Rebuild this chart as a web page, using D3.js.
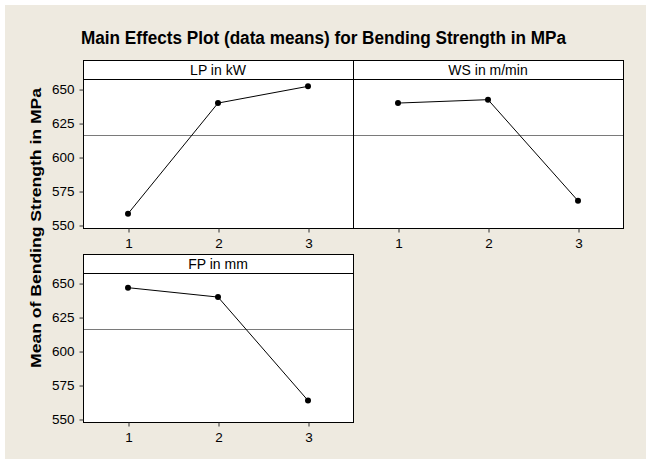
<!DOCTYPE html>
<html>
<head>
<meta charset="utf-8">
<script src="https://cdn.jsdelivr.net/npm/d3@7"></script>
<style>
  body { margin: 0; background: #fff; }
  svg { display: block; }
</style>
</head>
<body>
<svg id="chart" width="646" height="459"></svg>
<script>
// factor levels and data means
const levels = [1, 2, 3];
const factorNames = ["LP in kW", "WS in m/min", "FP in mm"];
const lpMeans = [558.3, 639.7, 652.0];
const wsMeans = [639.7, 642.2, 567.8];
const fpMeans = [646.6, 639.7, 563.6];
const grandMean = 616.2;
const yTicks = [550, 575, 600, 625, 650];

const width = 646, height = 459;
const svg = d3.select("#chart");

// beige page with thin white edge top/left
svg.append("rect").attr("width", width).attr("height", height).attr("fill", "#fff");
svg.append("rect").attr("x", 5).attr("y", 5)
  .attr("width", width - 5).attr("height", height - 5)
  .attr("fill", "#eeeae0");

const fontFam = "'Liberation Sans', Arial, sans-serif";

svg.append("text")
  .attr("x", 81).attr("y", 44)
  .attr("textLength", 485)
  .attr("lengthAdjust", "spacingAndGlyphs")
  .style("font-family", fontFam)
  .style("font-weight", "bold")
  .style("font-size", "18px")
  .text("Main Effects Plot (data means) for Bending Strength in MPa");

svg.append("text")
  .attr("transform", "translate(41,228) rotate(-90)")
  .attr("text-anchor", "middle")
  .attr("textLength", 280)
  .attr("lengthAdjust", "spacingAndGlyphs")
  .style("font-family", fontFam)
  .style("font-weight", "bold")
  .style("font-size", "15px")
  .text("Mean of Bending Strength in MPa");

const panelW = 270, stripH = 19, plotH = 149;
const panels = [
  { name: factorNames[0], values: lpMeans, x: 83, y: 60, yAxis: true },
  { name: factorNames[1], values: wsMeans, x: 353, y: 60, yAxis: false },
  { name: factorNames[2], values: fpMeans, x: 83, y: 254, yAxis: true },
];

const x = d3.scaleLinear().domain([0.5, 3.5]).range([0, panelW]);
const y = d3.scaleLinear().domain([547.8, 657.4]).range([plotH, 0]);

panels.forEach(p => {
  const g = svg.append("g").attr("transform", `translate(${p.x},${p.y})`);

  // strip
  g.append("rect")
    .attr("x", 0.5).attr("y", 0.5)
    .attr("width", panelW).attr("height", stripH)
    .attr("fill", "#fff").attr("stroke", "#000");
  g.append("text")
    .attr("x", panelW / 2).attr("y", 15)
    .attr("text-anchor", "middle")
    .style("font-family", fontFam)
    .style("font-size", "14px")
    .text(p.name);

  const plot = g.append("g").attr("transform", `translate(0,${stripH})`);
  plot.append("rect")
    .attr("x", 0.5).attr("y", 0.5)
    .attr("width", panelW).attr("height", plotH)
    .attr("fill", "#fff").attr("stroke", "#000");

  // grand mean reference line
  plot.append("line")
    .attr("x1", 1).attr("x2", panelW)
    .attr("y1", Math.round(y(grandMean)) + 0.5)
    .attr("y2", Math.round(y(grandMean)) + 0.5)
    .attr("stroke", "#7a7a7a");

  const xAxis = plot.append("g")
    .attr("transform", `translate(0.5,${plotH + 0.5})`)
    .call(d3.axisBottom(x).tickValues(levels).tickSize(4).tickPadding(6).tickFormat(d3.format("d")));
  xAxis.select(".domain").remove();

  if (p.yAxis) {
    const yAxis = plot.append("g")
      .attr("transform", "translate(0.5,0.5)")
      .call(d3.axisLeft(y).tickValues(yTicks).tickSize(4).tickPadding(5));
    yAxis.select(".domain").remove();
  }

  plot.selectAll(".tick line").attr("stroke", "#333");
  plot.selectAll(".tick text")
    .style("font-family", fontFam)
    .style("font-size", "13.5px")
    .attr("fill", "#000");

  const line = d3.line()
    .x((d, i) => x(levels[i]))
    .y(d => y(d));
  plot.append("path")
    .datum(p.values)
    .attr("d", line)
    .attr("fill", "none")
    .attr("stroke", "#000")
    .attr("stroke-width", 1);

  plot.selectAll("circle")
    .data(p.values)
    .join("circle")
    .attr("cx", (d, i) => x(levels[i]))
    .attr("cy", d => y(d))
    .attr("r", 3)
    .attr("fill", "#000");
});
</script>
</body>
</html>
